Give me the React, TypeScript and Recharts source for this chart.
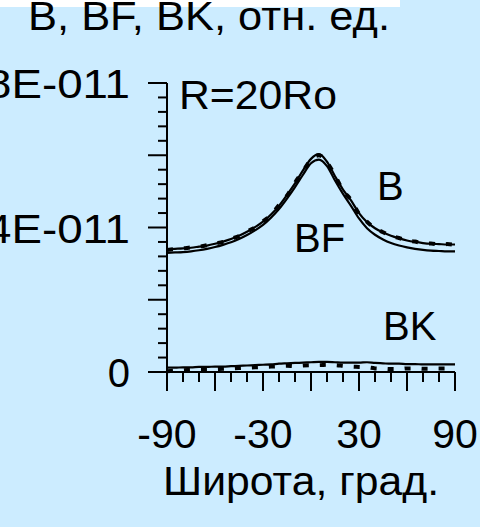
import React from 'react'
import { LineChart, Line, XAxis, YAxis } from 'recharts'

// широта, град.
const latitudes = [
  -90, -85, -80, -75, -70, -65, -60, -55, -50, -45, -40, -35, -30, -25, -20, -15, -10, -5, 0,
  5, 10, 15, 20, 25, 30, 35, 40, 45, 50, 55, 60, 65, 70, 75, 80, 85, 90,
]

// values in units of 1E-011
const bValues = [
  3.40, 3.41, 3.42, 3.44, 3.47, 3.50, 3.55, 3.61, 3.68, 3.77, 3.88, 4.01, 4.16, 4.36, 4.60, 4.90, 5.22, 5.58, 5.90,
  6.03, 5.82, 5.42, 5.05, 4.75, 4.40, 4.15, 3.98, 3.86, 3.77, 3.70, 3.64, 3.60, 3.57, 3.55, 3.54, 3.53, 3.53,
]
const bDashed = [
  3.38, 3.40, 3.42, 3.45, 3.47, 3.51, 3.56, 3.60, 3.69, 3.76, 3.89, 4.00, 4.17, 4.35, 4.62, 4.88, 5.24, 5.56, 5.88,
  6.00, 5.80, 5.44, 5.03, 4.76, 4.38, 4.16, 3.97, 3.87, 3.76, 3.71, 3.63, 3.61, 3.56, 3.56, 3.53, 3.54, 3.52,
]
const bfValues = [
  3.30, 3.31, 3.32, 3.34, 3.37, 3.41, 3.46, 3.52, 3.59, 3.68, 3.79, 3.92, 4.07, 4.27, 4.51, 4.80, 5.12, 5.46, 5.78,
  5.88, 5.70, 5.30, 4.93, 4.60, 4.25, 3.98, 3.80, 3.67, 3.57, 3.50, 3.45, 3.41, 3.38, 3.36, 3.35, 3.34, 3.34,
]
const bkValues = [
  0.12, 0.12, 0.13, 0.13, 0.14, 0.14, 0.15, 0.15, 0.16, 0.17, 0.18, 0.19, 0.20, 0.21, 0.23, 0.24, 0.25, 0.26, 0.27,
  0.28, 0.28, 0.27, 0.26, 0.26, 0.26, 0.27, 0.25, 0.24, 0.23, 0.23, 0.22, 0.22, 0.21, 0.21, 0.21, 0.21, 0.21,
]
const bkDashed = [
  0.02, 0.04, 0.05, 0.06, 0.07, 0.07, 0.08, 0.09, 0.10, 0.11, 0.12, 0.13, 0.14, 0.15, 0.16, 0.17, 0.16, 0.18, 0.19,
  0.19, 0.20, 0.19, 0.17, 0.15, 0.14, 0.13, 0.10, 0.09, 0.08, 0.08, 0.10, 0.10, 0.09, 0.09, 0.10, 0.10, 0.11,
]

const latTicks = [-90, -80, -70, -60, -50, -40, -30, -20, -10, 0, 10, 20, 30, 40, 50, 60, 70, 80, 90]
const latLabels = [-90, -30, 30, 90]
const valueTicks = [
  0, 0.4, 0.8, 1.2, 1.6, 2, 2.4, 2.8, 3.2, 3.6, 4, 4.4, 4.8, 5.2, 5.6, 6, 6.4, 6.8, 7.2, 7.6, 8,
]
const valueLabels = [0, 4, 8]

const data = latitudes.map((lat, i) => ({
  lat,
  b: bValues[i],
  bDash: bDashed[i],
  bf: bfValues[i],
  bk: bkValues[i],
  bkDash: bkDashed[i],
}))

const FONT = '"Liberation Sans", Arial, sans-serif'
const BG = '#CCECFF'

const LatTick = (props: any) => {
  const { x, y, payload } = props
  const v = payload.value
  const major = v % 30 === 0
  return (
    <g>
      <line x1={x} y1={y} x2={x} y2={y + (major ? 19 : 10)} stroke="#000" strokeWidth={2} />
      {latLabels.includes(v) && (
        <text x={x} y={y + 76} textAnchor="middle" fontSize={41} fontFamily={FONT} fill="#000">
          {v}
        </text>
      )}
    </g>
  )
}

const ValueTick = (props: any) => {
  const { x, y, payload } = props
  const v = payload.value
  const major = Math.abs(v / 2 - Math.round(v / 2)) < 1e-6
  const label = valueLabels.find((l) => Math.abs(l - v) < 1e-6)
  return (
    <g>
      <line x1={x - (major ? 19 : 9)} y1={y} x2={x} y2={y} stroke="#000" strokeWidth={2} />
      {label !== undefined && (
        <text
          x={x - 37}
          y={y + 15}
          textAnchor="end"
          fontSize={40}
          fontFamily={FONT}
          fill="#000"
          {...(label === 0 ? {} : { textLength: 144, lengthAdjust: 'spacingAndGlyphs' })}
        >
          {label === 0 ? '0' : `${label}E-011`}
        </text>
      )}
    </g>
  )
}

const App = () => {
  return (
    <div style={{ position: 'absolute', left: 0, top: 0, width: 480, height: 527, background: BG, overflow: 'hidden' }}>
      <LineChart width={480} height={527} data={data} margin={{ top: 83, right: 25, bottom: 0, left: 0 }}>
        <XAxis
          dataKey="lat"
          type="number"
          domain={[-90, 90]}
          ticks={latTicks}
          interval={0}
          tickLine={false}
          tickSize={0}
          tickMargin={0}
          tick={<LatTick />}
          axisLine={{ stroke: '#000', strokeWidth: 2 }}
          height={155}
        />
        <YAxis
          type="number"
          domain={[0, 8]}
          ticks={valueTicks}
          interval={0}
          tickLine={false}
          tickSize={0}
          tickMargin={0}
          tick={<ValueTick />}
          axisLine={{ stroke: '#000', strokeWidth: 2 }}
          width={167}
        />
        <Line dataKey="bf" type="monotone" stroke="#000" strokeWidth={2.2} dot={false} isAnimationActive={false} />
        <Line dataKey="b" type="monotone" stroke="#000" strokeWidth={2.2} dot={false} isAnimationActive={false} />
        <Line dataKey="bDash" type="monotone" stroke="#000" strokeWidth={4} strokeDasharray="6 11" dot={false} isAnimationActive={false} />
        <Line dataKey="bk" type="monotone" stroke="#000" strokeWidth={2.2} dot={false} isAnimationActive={false} />
        <Line dataKey="bkDash" type="monotone" stroke="#000" strokeWidth={4} strokeDasharray="6 11" dot={false} isAnimationActive={false} />
      </LineChart>
      <svg width={480} height={527} style={{ position: 'absolute', left: 0, top: 0, pointerEvents: 'none' }}>
        <rect x={0} y={0} width={400} height={7} fill="#fff" />
        <g fontFamily={FONT} fontSize={40} fill="#000">
          <text x={28} y={30} textLength={362} lengthAdjust="spacingAndGlyphs">B, BF, BK, отн. ед.</text>
          <text x={179} y={109} textLength={158} lengthAdjust="spacingAndGlyphs">R=20Ro</text>
          <text x={377} y={200}>B</text>
          <text x={294} y={252}>BF</text>
          <text x={383} y={340}>BK</text>
          <text x={163} y={495} textLength={276} lengthAdjust="spacingAndGlyphs">Широта, град.</text>
        </g>
      </svg>
    </div>
  )
}

export default App
